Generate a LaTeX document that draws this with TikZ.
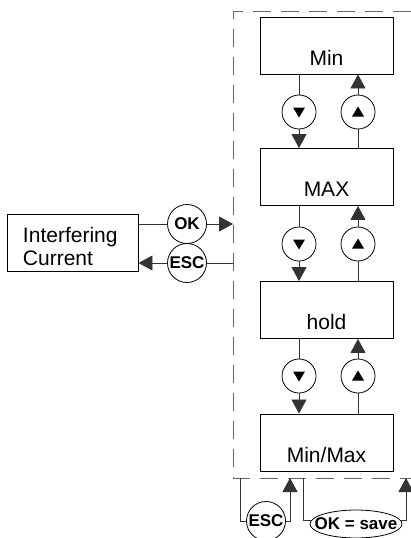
\documentclass[tikz,border=0pt]{standalone}
\usepackage{fontspec}
\setmainfont{Liberation Sans}
\usetikzlibrary{arrows.meta,shapes.geometric}

\begin{document}
\begin{tikzpicture}[x=1pt,y=-1pt]
			\tikzstyle{box}=[draw=black,line width=0.9pt,minimum width=133pt,minimum height=57pt,inner sep=0pt]
			\tikzstyle{lbl}=[anchor=base,yshift=9pt,font=\fontsize{21}{24}\selectfont]
			\tikzstyle{btn}=[circle,draw=black,line width=0.8pt,minimum size=39pt,inner sep=0pt,font=\fontsize{17}{20}\selectfont\bfseries]
			\tikzstyle{dnbtn}=[circle,draw=black,line width=0.8pt,minimum size=34pt,inner sep=0pt,path picture={\fill[shift={(path picture bounding box.center)}] (-6pt,4.5pt) -- (6pt,4.5pt) -- (0pt,-5.5pt) -- cycle;}]
			\tikzstyle{upbtn}=[circle,draw=black,line width=0.8pt,minimum size=34pt,inner sep=0pt,path picture={\fill[shift={(path picture bounding box.center)}] (-6pt,-4.5pt) -- (6pt,-4.5pt) -- (0pt,5.5pt) -- cycle;}]
			\tikzstyle{wire}=[draw=black!80,line width=0.8pt]
			\tikzstyle{arr}=[wire,-{Triangle[width=15pt,length=14pt]}]
			\tikzstyle{frame}=[draw=black!60,line width=0.8pt,dash pattern=on 18pt off 10pt]
			\useasboundingbox (0,0) rectangle (411,538);
			
			\draw[frame] (411,11) -- (233,11) -- (233,478) -- (411,478);
			\coordinate (fl) at (233,0);
			
			\node (min)[box,label={[lbl]south:Min}] at (326.5,45.5) {};
			\node (maxb)[box,label={[lbl]south:MAX}] at (326.5,177) {};
			\node (hold)[box,label={[lbl]south:hold}] at (326.5,310) {};
			\node (minmax)[box,label={[lbl]south:Min/Max}] at (326.5,442.5) {};
			
			\node (d1)[dnbtn] at (299,112) {};
			\node (u1)[upbtn] at (358,112) {};
			\node (d2)[dnbtn] at (299,244) {};
			\node (u2)[upbtn] at (358,244) {};
			\node (d3)[dnbtn] at (299,376) {};
			\node (u3)[upbtn] at (358,376) {};
			
			\draw[wire] (min.south -| d1) -- (d1);
			\draw[arr] (d1) -- (maxb.north -| d1);
			\draw[wire] (maxb.north -| u1) -- (u1);
			\draw[arr] (u1) -- (min.south -| u1);
			\draw[wire] (maxb.south -| d2) -- (d2);
			\draw[arr] (d2) -- (hold.north -| d2);
			\draw[wire] (hold.north -| u2) -- (u2);
			\draw[arr] (u2) -- (maxb.south -| u2);
			\draw[wire] (hold.south -| d3) -- (d3);
			\draw[arr] (d3) -- (minmax.north -| d3);
			\draw[wire] (minmax.north -| u3) -- (u3);
			\draw[arr] (u3) -- (hold.south -| u3);
			
			\node (ic)[box,minimum width=131pt,label={[font=\fontsize{21}{23}\selectfont,text width=99pt,align=left,yshift=-4pt]center:Interfering\\Current}] at (72.5,242.5) {};
			\node (ok)[btn] at (187,224) {OK};
			\node (esc)[btn] at (187,263) {ESC};
			\draw[wire] (ic.east |- ok) -- (ok);
			\draw[arr] (ok) -- (fl |- ok);
			\draw[wire] (fl |- esc) -- (esc);
			\draw[arr] (esc) -- (ic.east |- esc);
			
			\coordinate (b1) at (240,478);
			\coordinate (b2) at (290,478);
			\coordinate (b3) at (303,478);
			\coordinate (b4) at (406,478);
			\node (esc2)[btn] at (266,521) {ESC};
			\node (oksave)[ellipse,draw=black,line width=0.8pt,minimum width=92pt,minimum height=28pt,inner sep=0pt,label={[font=\fontsize{17}{20}\selectfont\bfseries]center:OK = save}] at (356,524) {};
			\draw[wire] (b1) |- (esc2);
			\draw[arr] (esc2) -| (b2);
			\draw[wire] (b3) |- (oksave.175);
			\draw[arr] (oksave.5) -| (b4);
		\end{tikzpicture}
\end{document}
